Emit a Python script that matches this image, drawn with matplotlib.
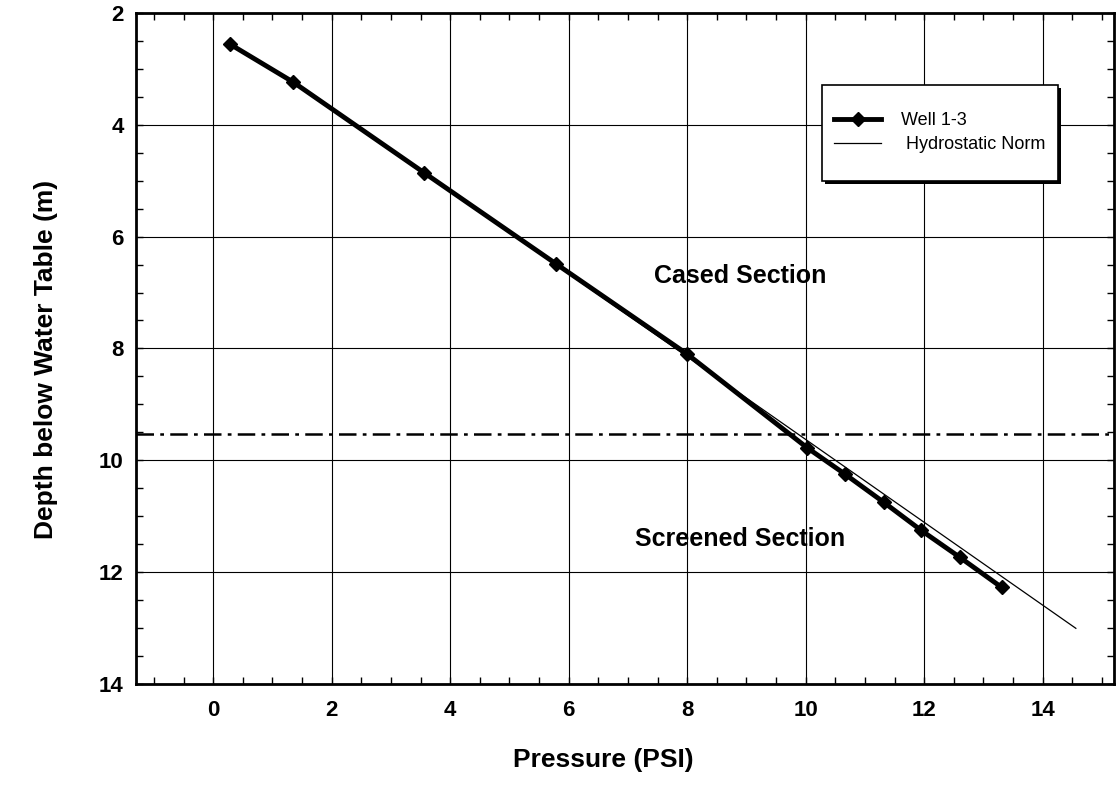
# pressure profile in well 1-3 vs hydrostatic norm
import matplotlib
matplotlib.use("Agg")
import matplotlib.pyplot as plt
import numpy as np
from matplotlib.ticker import MultipleLocator
from matplotlib.patches import Rectangle

plt.rcParams['font.family'] = ['Liberation Sans', 'DejaVu Sans']

# well 1-3 readings: pressure [PSI] vs depth below water table [m]
well_psi   = [0.28, 1.35, 3.56, 5.79, 8.00, 10.02, 10.67, 11.32, 11.95, 12.60, 13.31]
well_depth = [2.56, 3.24, 4.86, 6.49, 8.10, 9.77, 10.25, 10.75, 11.25, 11.73, 12.27]

# hydrostatic norm (straight line, hidden under the well curve up top)
norm_psi   = [3.56, 14.56]
norm_depth = [4.86, 13.00]

# casing / screen boundary depth [m]
screen_top = 9.53

fig = plt.figure(figsize=(11.16, 7.92), dpi=100)
ax = fig.add_axes([0.122, 0.136, 0.876, 0.848])

ax.plot(well_psi, well_depth, '-', color='black', linewidth=3.5,
        marker='D', markersize=7, label='Well 1-3', zorder=4)
ax.plot(norm_psi, norm_depth, '-', color='black', linewidth=0.9,
        label=' Hydrostatic Norm', zorder=3)
ax.axhline(screen_top, color='black', linewidth=1.8,
           linestyle=(0, (7, 2.5, 1.5, 2.5)), zorder=2)

ax.text(8.9, 6.7, 'Cased Section', fontsize=18, fontweight='bold',
        ha='center', va='center')
ax.text(8.9, 11.4, 'Screened Section', fontsize=18, fontweight='bold',
        ha='center', va='center')

ax.set_xlim(-1.3, 15.2)
ax.set_ylim(14, 2)
ax.xaxis.set_major_locator(MultipleLocator(2))
ax.xaxis.set_minor_locator(MultipleLocator(0.5))
ax.yaxis.set_major_locator(MultipleLocator(2))
ax.yaxis.set_minor_locator(MultipleLocator(0.5))
ax.tick_params(which='both', direction='in', top=True, right=True,
               length=5, width=1)
ax.tick_params(axis='x', which='major', labelsize=16, pad=11)
ax.tick_params(axis='y', which='major', labelsize=16, pad=9)
for lab in ax.get_xticklabels() + ax.get_yticklabels():
    lab.set_fontweight('bold')

ax.grid(True, which='major', color='black', linewidth=0.8)
for sp in ax.spines.values():
    sp.set_linewidth(2)

ax.set_xlabel('Pressure (PSI)', fontsize=19, fontweight='bold')
ax.set_ylabel('Depth below Water Table (m)', fontsize=19, fontweight='bold')
ax.xaxis.set_label_coords(0.478, -0.095)
ax.yaxis.set_label_coords(-0.080, 0.483)

# legend box with a solid drop shadow
bx, by, bw, bh = 0.7014, 0.7496, 0.2413, 0.1431
ax.add_patch(Rectangle((bx + 0.003, by - 0.0045), bw, bh, transform=ax.transAxes,
                       facecolor='black', edgecolor='none', zorder=5))
ax.add_patch(Rectangle((bx, by), bw, bh, transform=ax.transAxes,
                       facecolor='white', edgecolor='black', linewidth=1.2,
                       zorder=6))
leg = ax.legend(loc='center', bbox_to_anchor=(bx + bw / 2, by + bh / 2),
                borderaxespad=0, borderpad=0, fontsize=13, frameon=False,
                handlelength=2.6, handletextpad=1.1, labelspacing=0.4)
leg.set_zorder(7)

fig.savefig('out.png', dpi=100)
